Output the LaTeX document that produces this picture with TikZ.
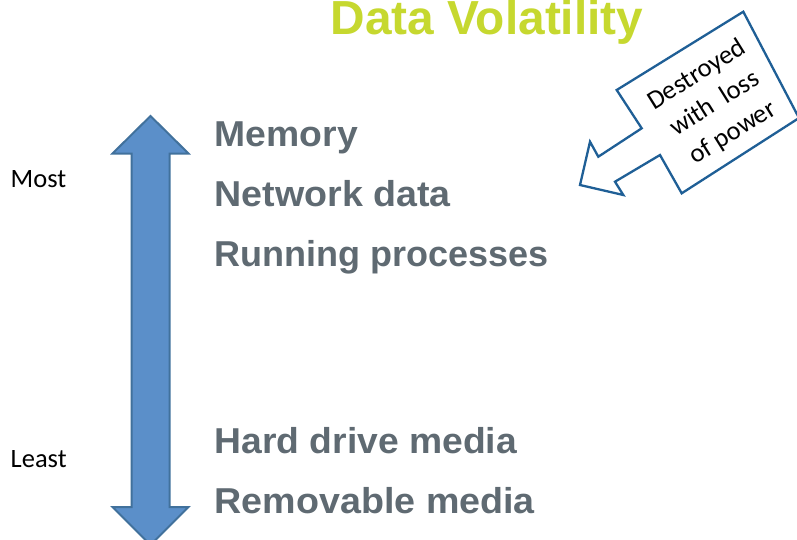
\documentclass[tikz,border=0pt]{standalone}
\usepackage{fontspec}
\usepackage{graphicx}
\setmainfont{Liberation Sans}
\newfontfamily\carlito{Carlito}
\definecolor{titlegreen}{HTML}{C6D82F}
\definecolor{itemgray}{HTML}{5F6A72}
\definecolor{arrowfill}{HTML}{5B8FC9}
\definecolor{arrowline}{HTML}{41719C}
\definecolor{calloutline}{HTML}{1F5F96}
\newcommand{\wid}[2]{\scalebox{#1}[1]{#2}}
\begin{document}
\begin{tikzpicture}[x=1pt,y=-1pt,
  titletext/.style={inner sep=0pt,anchor=base,text=titlegreen,font=\fontsize{47.8}{50}\selectfont\bfseries},
  itemtext/.style={inner sep=0pt,anchor=base west,text=itemgray,font=\fontsize{36}{40}\selectfont\bfseries},
  sidetext/.style={inner sep=0pt,anchor=base west,text=black,font=\carlito\fontsize{26.5}{30}\selectfont},
  callouttext/.style={inner sep=0pt,align=center,rotate=32,text=black,font=\carlito\fontsize{26.5}{34}\selectfont},
  bigarrow/.style={fill=arrowfill,draw=arrowline,line width=2pt,line join=miter},
  calloutshape/.style={fill=white,draw=calloutline,line width=2.3pt,line join=miter}]
\useasboundingbox (0,0) rectangle (797,539);

% title
\node[titletext] (title) at (487,34) {Data Volatility};

% double arrow
\draw[bigarrow] (150.5,116) -- (188.5,153.5) -- (169.5,153.5) -- (169.5,507)
  -- (188.5,507) -- (150.5,545) -- (112.5,507) -- (131.5,507) -- (131.5,153.5)
  -- (112.5,153.5) -- cycle;

% side labels
\node[sidetext] (most) at (10.5,187) {Most};
\node[sidetext] (least) at (10.5,467.5) {Least};

% items
\node[itemtext] (memory) at (214.5,146) {\wid{1.037}{Memory}};
\node[itemtext] (network) at (214.5,206.5) {\wid{1.045}{Network data}};
\node[itemtext] (running) at (214.5,266.5) {Running processes};
\node[itemtext] (harddrive) at (214.5,453) {\wid{1.035}{Hard drive media}};
\node[itemtext] (removable) at (214.5,513) {\wid{1.046}{Removable media}};

% callout
\draw[calloutshape] (616.7,90) -- (743.3,11.7) -- (799,118) -- (681.7,193.3)
  -- (660,155) -- (615,181.7) -- (623.3,195) -- (580,185) -- (590,141.7)
  -- (598.3,156.7) -- (641.7,128.3) -- cycle;
\node[callouttext] (callout) at (715,104) {Destroyed\\with~~loss\\of power};
\end{tikzpicture}
\end{document}
